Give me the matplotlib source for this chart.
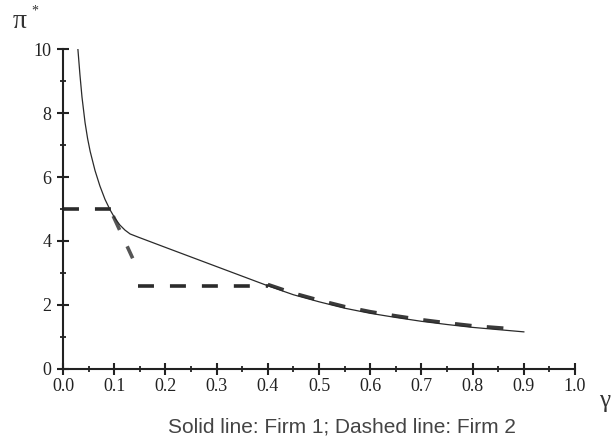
import matplotlib
matplotlib.use('Agg')
import matplotlib.pyplot as plt
from matplotlib.ticker import MultipleLocator

plt.rcParams['font.family'] = ['Liberation Serif', 'DejaVu Serif']
plt.rcParams['lines.scale_dashes'] = False

# Firm 1 (solid)
firm1_x = [0.029, 0.033, 0.037, 0.043, 0.048, 0.053, 0.0625, 0.072, 0.082, 0.092,
           0.101, 0.111, 0.121, 0.131, 0.147, 0.2, 0.3, 0.4, 0.45, 0.5, 0.55, 0.6,
           0.65, 0.7, 0.75, 0.8, 0.85, 0.9]
firm1_y = [10.0, 9.2, 8.5, 7.7, 7.2, 6.8, 6.2, 5.72, 5.3, 4.97,
           4.72, 4.5, 4.34, 4.22, 4.12, 3.8, 3.2, 2.6, 2.32, 2.1, 1.9, 1.74,
           1.61, 1.49, 1.39, 1.3, 1.23, 1.16]

# Firm 2 (dashed), drawn in pieces
firm2_top_x = [0.0, 0.093]
firm2_top_y = [5.0, 5.0]
firm2_drop_x = [0.098, 0.136]
firm2_drop_y = [4.78, 3.46]
firm2_flat_x = [0.147, 0.4]
firm2_flat_y = [2.6, 2.6]
firm2_tail_x = [0.4, 0.45, 0.5, 0.55, 0.6, 0.65, 0.7, 0.75, 0.8, 0.873]
firm2_tail_y = [2.64, 2.37, 2.15, 1.95, 1.79, 1.66, 1.54, 1.44, 1.35, 1.26]

x_ticks = [0.0, 0.1, 0.2, 0.3, 0.4, 0.5, 0.6, 0.7, 0.8, 0.9, 1.0]
y_ticks = [0, 2, 4, 6, 8, 10]

fig = plt.figure(figsize=(6.12, 4.4), dpi=100)
ax = fig.add_axes([0.103, 0.1614, 0.8366, 0.7272])

dash_col = '#2b2b2b'
ax.plot(firm2_top_x, firm2_top_y, color=dash_col, lw=2.6, dashes=(11.5, 11.5), dash_capstyle='butt')
ax.plot(firm2_drop_x, firm2_drop_y, color='#555555', lw=2.6, dashes=(11, 13), dash_capstyle='butt')
ax.plot(firm2_flat_x, firm2_flat_y, color=dash_col, lw=2.6, dashes=(11.5, 11.5), dash_capstyle='butt')
ax.plot(firm2_tail_x, firm2_tail_y, color='#3a3a3a', lw=2.6, dashes=(12, 11), dash_capstyle='butt')
ax.plot(firm1_x, firm1_y, color='#2a2a2a', lw=0.9)

ax.set_xlim(0, 1.0)
ax.set_ylim(0, 10)
ax.set_xticks(x_ticks)
ax.set_xticklabels([f'{v:.1f}' for v in x_ticks])
ax.set_yticks(y_ticks)
ax.xaxis.set_minor_locator(MultipleLocator(0.05))
ax.yaxis.set_minor_locator(MultipleLocator(1))

for s in ['top', 'right']:
    ax.spines[s].set_visible(False)
for s in ['left', 'bottom']:
    ax.spines[s].set_linewidth(1.5)
    ax.spines[s].set_color('#222222')

ax.tick_params(which='major', direction='inout', length=9, width=1.5, color='#222222',
               labelsize=13, labelcolor='#222222')
ax.tick_params(which='minor', direction='inout', length=5, width=1.3, color='#222222')
ax.tick_params(axis='y', which='major', pad=4)
ax.tick_params(axis='x', which='major', pad=2)

fig.text(0.02, 0.937, 'π', fontsize=20, color='#333333')
fig.text(0.052, 0.99, '*', fontsize=10, color='#333333', va='top')
fig.text(0.978, 0.075, 'γ', fontsize=18, color='#333333')

fig.text(0.559, 0.018, 'Solid line: Firm 1; Dashed line: Firm 2', fontsize=15,
         family=['Liberation Sans', 'DejaVu Sans'], color='#444444', ha='center')

fig.savefig('out.png', dpi=100)
